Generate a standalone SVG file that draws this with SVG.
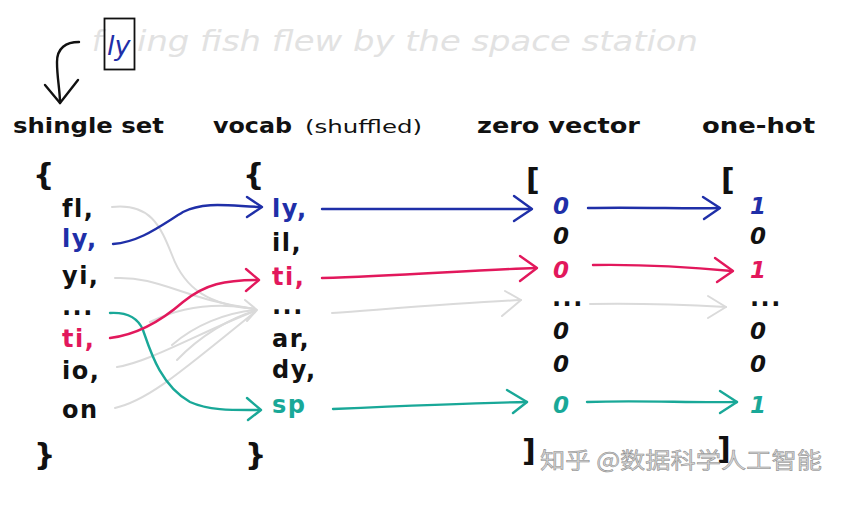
<svg xmlns="http://www.w3.org/2000/svg" width="851" height="507" viewBox="0 0 851 507">
<style>
  text { font-family: "DejaVu Sans", "Liberation Sans", sans-serif; }
  .t { font-size: 24px; font-weight: bold; letter-spacing: 1.5px; }
  .h { font-size: 22px; font-weight: bold; fill: #111; }
  .br { font-size: 30px; fill: #111; font-weight: bold; }
  .num { font-size: 23px; font-style: italic; font-weight: bold; }
  .blue { fill: #1f2fa8; }
  .red { fill: #e2185c; }
  .teal { fill: #19a898; }
  .k { fill: #111; }
  .ln { fill: none; stroke-width: 2.4; stroke-linecap: round; stroke-linejoin: round; }
  .lb { stroke: #1f2fa8; }
  .lr { stroke: #e2185c; }
  .lt { stroke: #19a898; }
  .lg { stroke: #dadada; stroke-width: 2; }
  .lk { stroke: #111; }
</style>

<g id="sentence">
  <text x="92" y="51" font-size="29" font-style="italic" fill="#e2e2e2">f</text>
  <text x="137" y="51" font-size="29" font-style="italic" fill="#e2e2e2" textLength="561" lengthAdjust="spacingAndGlyphs">ing fish flew by the space station</text>
  <rect x="104.5" y="18.5" width="30" height="51" fill="none" stroke="#111" stroke-width="1.8"/>
  <text x="107" y="55" font-size="27" font-style="italic" class="blue">ly</text>
  <path class="ln lk" d="M79,42 C66,42 57,48 57,62 C57,78 60,90 60,103" stroke-width="2"/>
  <path class="ln lk" d="M45,85 L60,103 L78,80" stroke-width="2"/>
</g>

<g id="headers">
  <text class="h" x="13" y="133" textLength="151" lengthAdjust="spacingAndGlyphs">shingle set</text>
  <text class="h" x="213" y="133" textLength="79" lengthAdjust="spacingAndGlyphs">vocab</text>
  <text x="305" y="133" font-size="17" fill="#111" textLength="117" lengthAdjust="spacingAndGlyphs">(shuffled)</text>
  <text class="h" x="477" y="133" textLength="163" lengthAdjust="spacingAndGlyphs">zero vector</text>
  <text class="h" x="702" y="133" textLength="113" lengthAdjust="spacingAndGlyphs">one-hot</text>
</g>

<g id="connectors">
  <!-- gray shuffle lines -->
  <path class="ln lg" d="M112,207 C150,203 160,225 172,255 C185,290 210,305 255,309"/>
  <path class="ln lg" d="M115,278 C160,276 185,300 255,309"/>
  <path class="ln lg" d="M150,322 C185,305 222,303 255,309"/>
  <path class="ln lg" d="M172,345 C195,325 225,313 255,310"/>
  <path class="ln lg" d="M177,360 C200,336 230,318 255,311"/>
  <path class="ln lg" d="M117,367 C150,362 205,330 255,311"/>
  <path class="ln lg" d="M115,408 C150,400 185,368 255,312"/>
  <path class="ln lg" d="M245,300 L257,310 L247,321"/>
  <path class="ln lg" d="M332,313 C400,308 460,303 521,300"/>
  <path class="ln lg" d="M505,291 L521,300 L502,316"/>
  <path class="ln lg" d="M590,304 C640,303 690,305 726,307"/>
  <path class="ln lg" d="M708,296 L726,307 L708,318"/>

  <!-- teal -->
  <path class="ln lt" d="M110,313 C128,312 138,318 143,330 C150,350 160,385 190,402 C210,411 235,410 260,410"/>
  <path class="ln lt" d="M247,398 L261,410 L248,420"/>
  <path class="ln lt" d="M333,409 C400,406 470,403 527,402"/>
  <path class="ln lt" d="M507,390 L527,402 L513,413"/>
  <path class="ln lt" d="M587,402 C640,400 690,403 737,402"/>
  <path class="ln lt" d="M720,391 L737,402 L720,413"/>

  <!-- blue -->
  <path class="ln lb" d="M113,244 C140,242 160,226 183,212 C205,201 230,206 261,207"/>
  <path class="ln lb" d="M247,197 L262,207 L247,217"/>
  <path class="ln lb" d="M322,209 L531,209"/>
  <path class="ln lb" d="M514,196 L532,209 L514,221"/>
  <path class="ln lb" d="M588,208 C640,207 690,209 719,208"/>
  <path class="ln lb" d="M703,197 L720,208 L704,219"/>

  <!-- red -->
  <path class="ln lr" d="M110,338 C135,335 160,322 183,302 C205,284 225,280 258,280"/>
  <path class="ln lr" d="M246,269 L259,280 L246,291"/>
  <path class="ln lr" d="M322,278 C400,276 470,270 536,268"/>
  <path class="ln lr" d="M520,256 L537,268 L520,281"/>
  <path class="ln lr" d="M593,265 C650,264 700,268 732,271"/>
  <path class="ln lr" d="M715,258 L733,271 L717,282"/>
</g>

<g id="shingle-set">
  <text class="br" x="33" y="185">{</text>
  <text class="t k" x="62" y="217">fl,</text>
  <text class="t blue" x="62" y="247">ly,</text>
  <text class="t k" x="62" y="284">yi,</text>
  <text class="t k" x="62" y="315">...</text>
  <text class="t red" x="62" y="347">ti,</text>
  <text class="t k" x="62" y="379">io,</text>
  <text class="t k" x="62" y="418">on</text>
  <text class="br" x="34" y="465">}</text>
</g>

<g id="vocab">
  <text class="br" x="243" y="185">{</text>
  <text class="t blue" x="272" y="217">ly,</text>
  <text class="t k" x="272" y="251">il,</text>
  <text class="t red" x="272" y="285">ti,</text>
  <text class="t k" x="272" y="314">...</text>
  <text class="t k" x="272" y="347">ar,</text>
  <text class="t k" x="272" y="378">dy,</text>
  <text class="t teal" x="272" y="413">sp</text>
  <text class="br" x="245" y="465">}</text>
</g>

<g id="zero-vector">
  <text class="br" x="526" y="190">[</text>
  <text class="num blue" x="553" y="214">0</text>
  <text class="num k" x="553" y="244">0</text>
  <text class="num red" x="553" y="278">0</text>
  <text class="t k" x="552" y="306" font-size="18" letter-spacing="0">...</text>
  <text class="num k" x="553" y="339">0</text>
  <text class="num k" x="553" y="372">0</text>
  <text class="num teal" x="553" y="413">0</text>
  <text class="br" x="522" y="461">]</text>
</g>

<g id="one-hot">
  <text class="br" x="721" y="190">[</text>
  <text class="num blue" x="750" y="214">1</text>
  <text class="num k" x="750" y="244">0</text>
  <text class="num red" x="750" y="278">1</text>
  <text class="t k" x="750" y="306" font-size="18" letter-spacing="0">...</text>
  <text class="num k" x="750" y="339">0</text>
  <text class="num k" x="750" y="372">0</text>
  <text class="num teal" x="750" y="413">1</text>
  <text class="br" x="717" y="459">]</text>
</g>

<g id="watermark">
  <text x="540" y="468" font-size="22" fill="#d4d4d4" stroke="#8a8a8a" stroke-width="0.5" style="font-family: 'Noto Sans CJK SC', 'DejaVu Sans', sans-serif;" textLength="282" lengthAdjust="spacingAndGlyphs">知乎 @数据科学人工智能</text>
</g>
</svg>
